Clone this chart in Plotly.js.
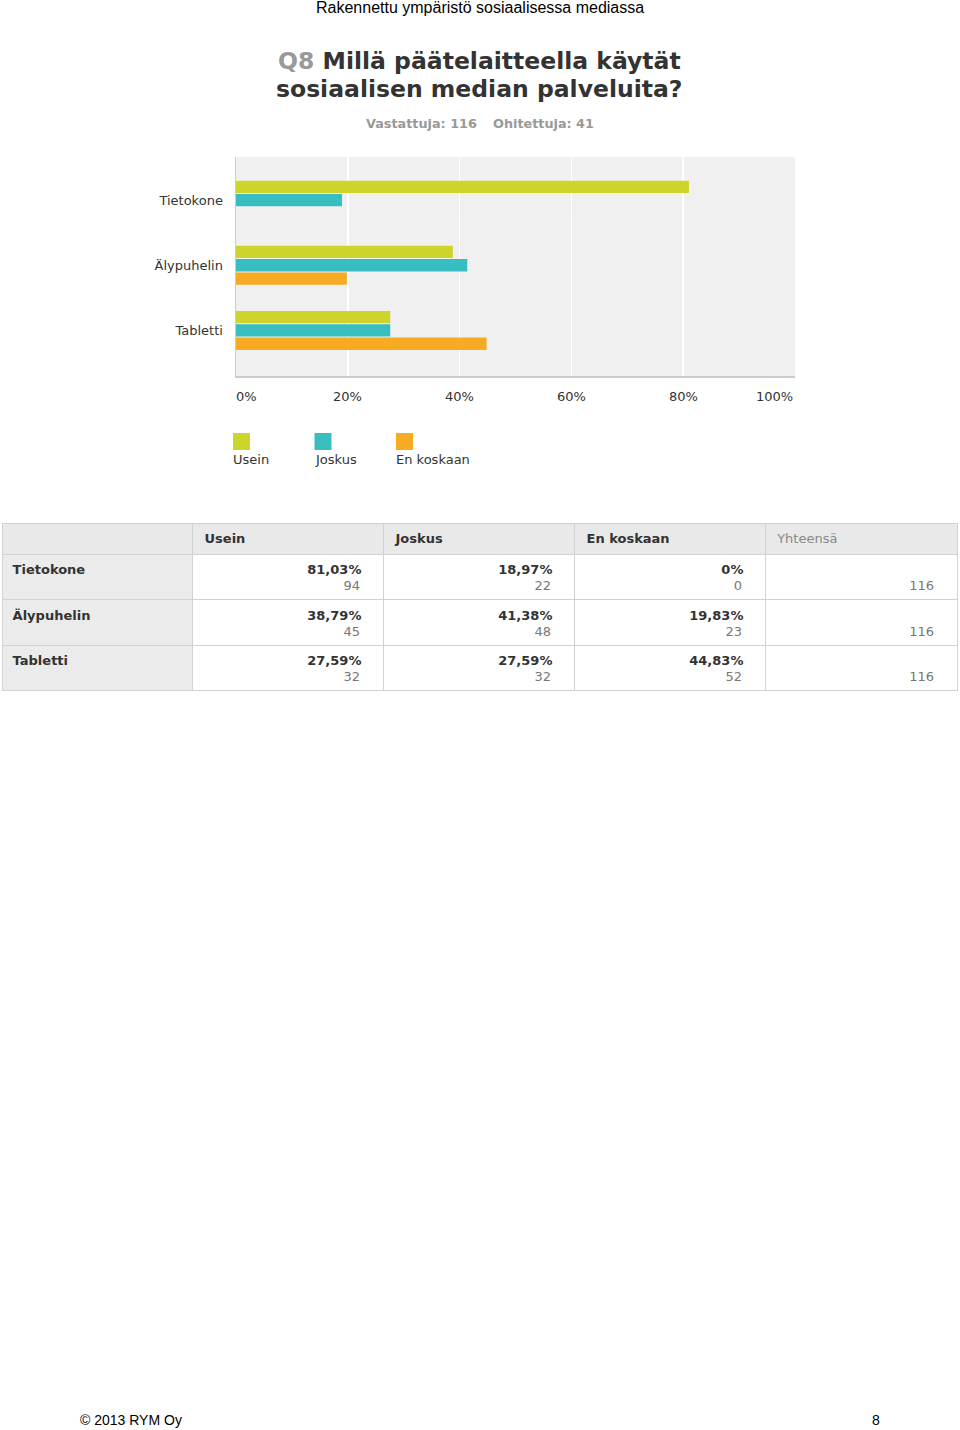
<!DOCTYPE html>
<html>
<head>
<meta charset="utf-8">
<script src="https://cdn.plot.ly/plotly-3.0.1.min.js"></script>
<style>html,body{margin:0;padding:0;background:#fff;}#chart{width:960px;height:1430px;}</style>
</head>
<body>
<div id="chart"></div>
<script>
// ---- data ----
const pageHeader = "Rakennettu ympäristö sosiaalisessa mediassa";
const questionNo = "Q8";
const questionText = ["Millä päätelaitteella käytät", "sosiaalisen median palveluita?"];
const answered = 116;
const skipped = 41;
const categories = ["Tietokone", "Älypuhelin", "Tabletti"];
const seriesNames = ["Usein", "Joskus", "En koskaan"];
const useinPct = [81.03, 38.79, 27.59];
const joskusPct = [18.97, 41.38, 27.59];
const enKoskaanPct = [0, 19.83, 44.83];
const useinN = [94, 45, 32];
const joskusN = [22, 48, 32];
const enKoskaanN = [0, 23, 52];
const totals = [116, 116, 116];
const totalLabel = "Yhteensä";
const xTickVals = [0, 20, 40, 60, 80, 100];
const xTickText = ["0%", "20%", "40%", "60%", "80%", "100%"];
const footerLeft = "© 2013 RYM Oy";
const footerRight = "8";

// ---- styling ----
const colors = ["#cdd42c", "#38bec1", "#f6ab23"];
const W = 960, H = 1430;
const px = x => x / W;
const py = y => 1 - y / H;
const FONT = "DejaVu Sans, Verdana, sans-serif";
const SANS = "Liberation Sans, Arial, sans-serif";
const NB = "\u00a0";
const THIN = "\u2009";
const CLEAR = "rgba(0,0,0,0)";

const pctSeries = [useinPct, joskusPct, enKoskaanPct];
const nSeries = [useinN, joskusN, enKoskaanN];

const traces = pctSeries.map((vals, i) => ({
  type: "bar",
  orientation: "h",
  name: seriesNames[i],
  y: categories,
  x: vals,
  marker: {color: colors[i]},
  hoverinfo: "skip",
  xaxis: "x", yaxis: "y"
}));

function fmtPct(v) {
  return v === 0 ? "0%" : v.toFixed(2).replace(".", ",") + "%";
}

const colWidths = [190, 191, 191, 191, 192];
const tableTop = 523;
const lineStep = 16;

// main table: grid, backgrounds, headers, row labels and percentages
const headerVals = ["", ...seriesNames.map(s => "<b>" + NB + s + "</b>"), "<span>" + NB + totalLabel + "</span>"];
const colRowLabels = categories.map(c => "<b>" + THIN + c + "</b>");
const pctCols = pctSeries.map(vals => vals.map(v => "<b>" + fmtPct(v) + NB.repeat(3) + "</b>"));
const emptyCol = categories.map(() => "");

traces.push({
  type: "table",
  domain: {x: [px(2), px(957)], y: [py(900), py(tableTop)]},
  columnwidth: colWidths,
  header: {
    values: headerVals,
    align: "left",
    height: 31,
    fill: {color: "#e9e9e9"},
    line: {color: "#d2d2d2", width: 1},
    font: {family: FONT, size: 13, color: ["#333", "#333", "#333", "#333", "#888"]}
  },
  cells: {
    values: [colRowLabels, ...pctCols, emptyCol],
    align: ["left", "right", "right", "right", "right"],
    height: 45.5,
    fill: {color: ["#ebebeb", "#ffffff", "#ffffff", "#ffffff", "#ffffff"]},
    line: {color: "#d2d2d2", width: 1},
    font: {family: FONT, size: 13, color: "#333"}
  }
});

// second (transparent) table: the count line under each percentage, and totals
const countCols = nSeries.map(vals => vals.map(n => "<span>" + n + NB.repeat(3) + THIN + "</span>"));
const totalCol = totals.map(t => "<span>" + t + NB.repeat(3) + THIN + "</span>");
traces.push({
  type: "table",
  domain: {x: [px(2), px(957)], y: [py(900), py(tableTop + lineStep)]},
  columnwidth: colWidths,
  header: {
    values: ["", "", "", "", ""],
    height: 31,
    fill: {color: CLEAR},
    line: {color: CLEAR, width: 0}
  },
  cells: {
    values: [emptyCol, ...countCols, totalCol],
    align: "right",
    height: 45.5,
    fill: {color: CLEAR},
    line: {color: CLEAR, width: 0},
    font: {family: FONT, size: 13, color: "#777"}
  }
});

const annotations = [];
const addText = (text, x, y, xanchor, font, extra) => annotations.push(Object.assign({
  text: text, x: px(x), y: py(y), xref: "paper", yref: "paper",
  xanchor: xanchor, yanchor: "middle", showarrow: false, font: font}, extra || {}));

addText(pageHeader, 480, 7, "center", {family: SANS, size: 16, color: "#000"});
addText("<b><span style='color:#999'>" + questionNo + "</span> " + questionText[0] + "</b>", 479, 61, "center",
  {family: FONT, size: 23.5, color: "#333"});
addText("<b>" + questionText[1] + "</b>", 479, 89, "center", {family: FONT, size: 23.5, color: "#333"});
addText("<b>Vastattuja: " + answered + "</b>", 366, 124, "left", {family: FONT, size: 12.8, color: "#999"}, {xshift: -2});
addText("<b>Ohitettuja: " + skipped + "</b>", 493, 124, "left", {family: FONT, size: 12.8, color: "#999"}, {xshift: -2});

// x tick labels (first/last kept inside the plot like the source)
xTickVals.forEach((v, i) => {
  const last = i === xTickVals.length - 1;
  annotations.push({text: xTickText[i], x: v, xref: "x", y: py(396), yref: "paper",
    xanchor: i === 0 ? "left" : (last ? "right" : "center"), xshift: i === 0 ? -2 : 0,
    yanchor: "middle", showarrow: false, font: {family: FONT, size: 13, color: "#333"}});
});

// legend
const shapes = [];
seriesNames.forEach((s, i) => {
  const x0 = 233 + i * 81.5;
  shapes.push({type: "rect", xref: "paper", yref: "paper", x0: px(x0), x1: px(x0 + 17),
    y0: py(450), y1: py(433), fillcolor: colors[i], line: {width: 0}});
  addText(s, x0, 459, "left", {family: FONT, size: 13, color: "#333"}, {xshift: -2});
});

// footer
addText(footerLeft, 80, 1420, "left", {family: SANS, size: 14, color: "#000"}, {xshift: -2});
addText(footerRight, 882, 1420, "right", {family: SANS, size: 14, color: "#000"});

const layout = {
  width: W, height: H,
  margin: {l: 0, r: 0, t: 0, b: 0},
  paper_bgcolor: "#fff",
  plot_bgcolor: "#f0f0f0",
  showlegend: false,
  barmode: "group",
  bargap: 0.385,
  bargroupgap: 0.08,
  font: {family: FONT, size: 13, color: "#333"},
  xaxis: {
    domain: [px(236), px(795)], anchor: "y",
    range: [0, 100], tickvals: xTickVals, showticklabels: false,
    showgrid: true, gridcolor: "#ffffff", gridwidth: 1.5,
    zeroline: false, showline: true, linecolor: "#cccccc", linewidth: 1.5,
    fixedrange: true
  },
  yaxis: {
    domain: [py(376), py(157)], anchor: "x",
    type: "category", categoryarray: categories,
    range: [2.7, -0.662],
    showgrid: false, zeroline: false, showline: true, linecolor: "#cccccc", linewidth: 1.5,
    ticks: "", ticklabelstandoff: 9,
    tickfont: {family: FONT, size: 13, color: "#333"},
    fixedrange: true
  },
  annotations: annotations,
  shapes: shapes
};

Plotly.newPlot("chart", traces, layout, {staticPlot: true, displayModeBar: false});
</script>
</body>
</html>
